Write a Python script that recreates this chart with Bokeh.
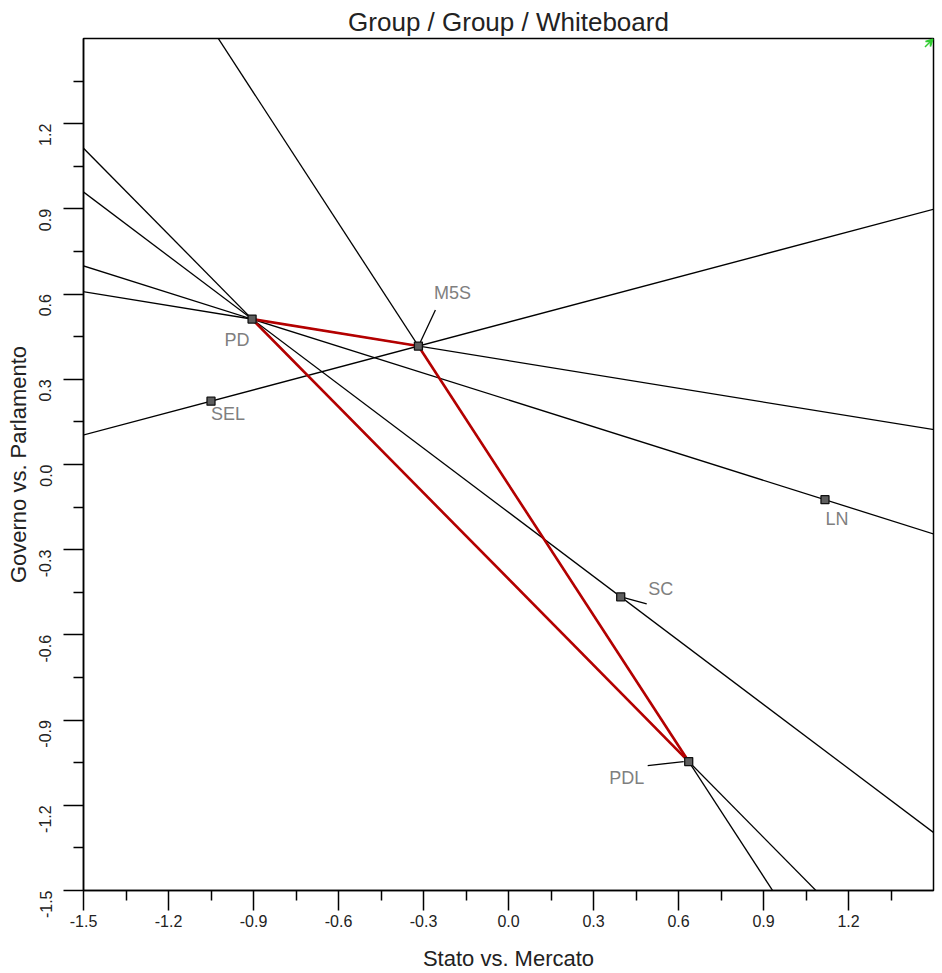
import numpy as np
from bokeh.plotting import figure
from bokeh.models import FixedTicker, NumeralTickFormatter, ColumnDataSource, Arrow, VeeHead, Range1d
from bokeh.core.properties import value
from bokeh.embed import file_html
from bokeh.resources import INLINE

# ---- data ----
parties = ["PD", "M5S", "SEL", "LN", "SC", "PDL"]
stato_mercato = [-0.905, -0.318, -1.05, 1.117, 0.396, 0.636]
governo_parlamento = [0.512, 0.417, 0.223, -0.124, -0.466, -1.046]

black_pairs = [("PD", "M5S"), ("PD", "PDL"), ("PD", "SC"), ("PD", "LN"),
               ("M5S", "PDL"), ("SEL", "M5S")]
red_pairs = [("PD", "M5S"), ("M5S", "PDL"), ("PDL", "PD")]

tick_values = [-1.5, -1.2, -0.9, -0.6, -0.3, 0.0, 0.3, 0.6, 0.9, 1.2]
minor_tick_values = [-1.35, -1.05, -0.75, -0.45, -0.15, 0.15, 0.45, 0.75, 1.05, 1.35]

corner_arrow_x = [1.470, 1.498]
corner_arrow_y = [1.470, 1.498]

# ---- layout (screen-pixel offsets for labels and leader lines) ----
PX = 850 / 3.0  # pixels per data unit
label_dx = [-15, 34, 17, 12, 40, -62]
label_dy = [21, -53, 13, 19, -8, 16]
leader_party = ["M5S", "SC", "PDL"]
leader_start = [(2, -4), (4, 1), (-5, 0)]
leader_end = [(17, -36), (26, 7), (-41, 4)]

pos = {n: (x, y) for n, x, y in zip(parties, stato_mercato, governo_parlamento)}

p = figure(width=942, height=973, output_backend="svg", toolbar_location=None,
           x_range=Range1d(-1.5, 1.5), y_range=Range1d(-1.5, 1.5),
           min_border_left=83, min_border_right=9, min_border_top=38, min_border_bottom=83,
           title="Group / Group / Whiteboard")
p.title.align = "center"
p.title.text_font = "Liberation Sans"
p.title.text_font_size = "26px"
p.title.text_font_style = "normal"
p.title.text_color = "#222222"
p.title.standoff = 3

p.xgrid.visible = False
p.ygrid.visible = False
p.outline_line_color = "black"
p.outline_line_width = 1.5
p.background_fill_color = "white"
p.border_fill_color = "white"

for ax in (p.xaxis[0], p.yaxis[0]):
    ax.ticker = FixedTicker(ticks=tick_values, minor_ticks=minor_tick_values)
    ax.formatter = NumeralTickFormatter(format="0.0")
    ax.major_tick_out = 20
    ax.major_tick_in = 0
    ax.minor_tick_out = 10
    ax.minor_tick_in = 0
    ax.axis_line_color = "black"
    ax.axis_line_width = 1.5
    ax.major_tick_line_color = "black"
    ax.major_tick_line_width = 1.5
    ax.minor_tick_line_color = "black"
    ax.minor_tick_line_width = 1.5
    ax.major_label_text_font = "Liberation Sans"
    ax.major_label_text_font_size = "16px"
    ax.major_label_text_color = "#222222"
    ax.axis_label_text_font = "Liberation Sans"
    ax.axis_label_text_font_size = "22px"
    ax.axis_label_text_font_style = "normal"
    ax.axis_label_text_color = "#222222"

p.xaxis.axis_label = "Stato vs. Mercato"
p.yaxis.axis_label = "Governo vs. Parlamento"
p.yaxis.major_label_orientation = np.pi / 2
p.xaxis.major_label_standoff = 4
p.xaxis.axis_label_standoff = 16
p.yaxis.major_label_standoff = 18
p.yaxis.axis_label_standoff = 0

# extended black lines through pairs of parties
xs_b, ys_b = [], []
for a, b in black_pairs:
    (x1, y1), (x2, y2) = pos[a], pos[b]
    s = (y2 - y1) / (x2 - x1)
    xe = np.array([-3.0, 3.0])
    xs_b.append(list(xe))
    ys_b.append(list(y1 + s * (xe - x1)))
p.multi_line(xs_b, ys_b, line_color="black", line_width=1.3)

# red triangle
xs_r = [[pos[a][0], pos[b][0]] for a, b in red_pairs]
ys_r = [[pos[a][1], pos[b][1]] for a, b in red_pairs]
p.multi_line(xs_r, ys_r, line_color="#b40000", line_width=2.6)

# leader lines
x0s, y0s, x1s, y1s = [], [], [], []
for n, st, en in zip(leader_party, leader_start, leader_end):
    x, y = pos[n]
    x0s.append(x + st[0] / PX); y0s.append(y - st[1] / PX)
    x1s.append(x + en[0] / PX); y1s.append(y - en[1] / PX)
p.segment(x0s, y0s, x1s, y1s, line_color="black", line_width=1.3)

# points
src = ColumnDataSource(dict(x=stato_mercato, y=governo_parlamento, name=parties,
                            lx=[x + dx / PX for x, dx in zip(stato_mercato, label_dx)],
                            ly=[y - dy / PX for y, dy in zip(governo_parlamento, label_dy)]))
p.scatter("x", "y", source=src, marker="square", size=8, fill_color="#5e5e5e",
          line_color="#111111", line_width=1.3)
p.text("lx", "ly", text="name", source=src, text_font=value("Liberation Sans"),
       text_font_size="18px", text_color="#7f7f7f", text_align="center",
       text_baseline="middle")

# green corner arrow
p.add_layout(Arrow(end=VeeHead(size=7, line_color="#33cc33", fill_color="#33cc33", line_width=1.5),
                   x_start=corner_arrow_x[0], y_start=corner_arrow_y[0],
                   x_end=corner_arrow_x[1], y_end=corner_arrow_y[1],
                   line_color="#33cc33", line_width=1.5))

open("out.html", "w").write(file_html(p, INLINE))
